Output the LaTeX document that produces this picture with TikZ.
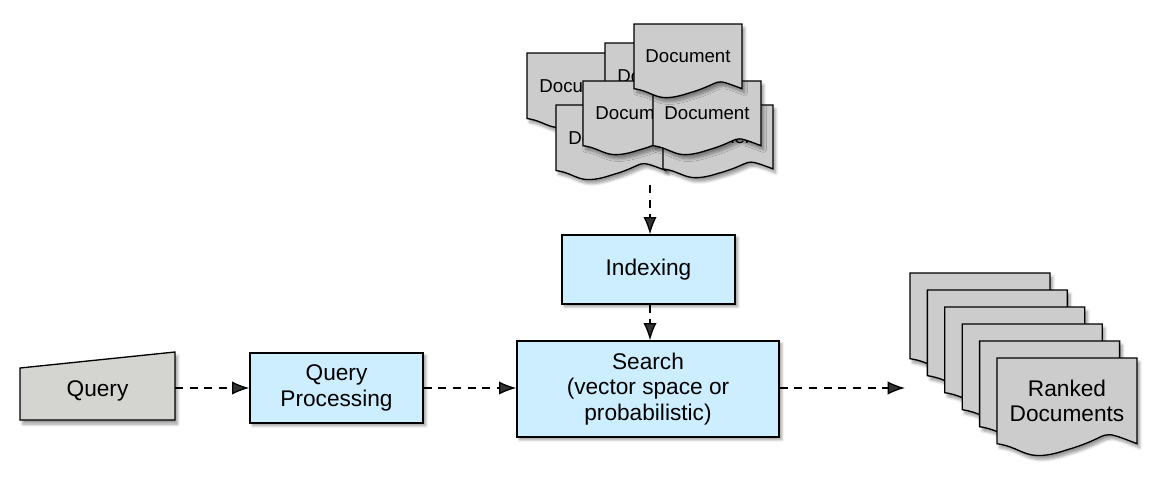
\documentclass[tikz,border=0pt]{standalone}
\usepackage{fontspec}
\setmainfont{Liberation Sans}
\usetikzlibrary{arrows.meta,shadows.blur}
\definecolor{docgray}{HTML}{CCCCCC}
\definecolor{qgray}{HTML}{D4D4D0}
\definecolor{boxblue}{HTML}{CCEEFF}
\tikzset{
  doc/.style={draw=black,line width=1pt,fill=docgray,blur shadow={shadow xshift=2pt,shadow yshift=-3pt,shadow blur steps=6}},
  box/.style={draw=black,line width=1pt,fill=boxblue,blur shadow={shadow xshift=2pt,shadow yshift=-2pt,shadow blur steps=4}},
  lbl/.style={font=\fontsize{17}{19}\selectfont,align=center},
  dlbl/.style={font=\fontsize{14}{16}\selectfont,align=center},
  rlbl/.style={font=\fontsize{17}{19}\selectfont,align=center},
  flow/.style={dashed,dash pattern=on 6pt off 5pt,line width=1pt,-{Latex[length=13pt,width=10pt]}}
}
\newcommand\dshape[7]{%
  \path[doc] (#1,#2) -- ++(#3,0) -- ++(0,0.84*#4)
    .. controls +(-0.3*#3,-0.16*#4) and +(0.35*#3,-0.14*#4) .. ++(-0.5*#3,0.06*#4)
    .. controls +(-0.3*#3,0.14*#4) and +(0.2*#3,0.04*#4) .. ++(-0.5*#3,-0.06*#4) -- cycle;
  \node[#7] (#5) at (#1+0.5*#3,#2+0.42*#4) {#6};}
\begin{document}
\begin{tikzpicture}[x=0.75pt,y=-0.75pt]
\useasboundingbox (0,0) rectangle (1158,496);
% document stack
\dshape{527}{53}{110}{78}{d1}{Document}{dlbl}
\dshape{605}{43}{110}{78}{d2}{Document}{dlbl}
\dshape{556}{105}{110}{78}{d4}{Document}{dlbl}
\dshape{663}{105}{110}{76}{d5}{Document}{dlbl}
\dshape{583}{81}{110}{77}{d6}{Document}{dlbl}
\dshape{653}{81}{108}{77}{d7}{Document}{dlbl}
\dshape{634}{24}{108}{77}{d3}{Document}{dlbl}
\coordinate (stack) at (650,185);
% ranked documents
\foreach \i in {0,...,4}{
  \dshape{910+17.4*\i}{273+17*\i}{140}{102}{r\i}{}{rlbl}
}
\dshape{997}{358}{140}{102}{ranked}{Ranked\\Documents}{rlbl}
% query
\path[doc,fill=qgray] (20,368) -- (175,352) -- (175,420) -- (20,420) -- cycle;
\node[lbl] (query) at (97.5,391) {Query};
% boxes
\node[box,lbl,minimum width=173*0.75pt,minimum height=70*0.75pt] (qp) at (336.5,388) {Query\\Processing};
\node[box,lbl,minimum width=173*0.75pt,minimum height=69*0.75pt] (idx) at (648.5,269.5) {Indexing};
\node[box,lbl,minimum width=262*0.75pt,minimum height=96*0.75pt] (search) at (648,389) {Search\\(vector space or\\probabilistic)};
\coordinate (qr) at (175,388);
\coordinate (rk) at (905,388);
\draw[flow] (qr) -- (qp.west);
\draw[flow] (qp.east) -- (search.west |- qp.east);
\draw[flow] (search.east |- rk) -- (rk);
\draw[flow] (stack) -- (idx.north -| stack);
\draw[flow] (idx.south -| stack) -- (search.north -| stack);
\end{tikzpicture}
\end{document}
